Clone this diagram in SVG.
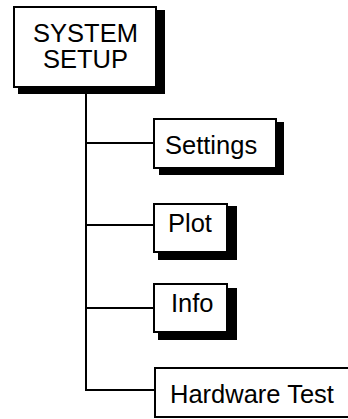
<svg xmlns="http://www.w3.org/2000/svg" width="348" height="419" viewBox="0 0 348 419">
<style>
.box{fill:#fff;stroke:#000;stroke-width:2}
.shadow{fill:#000}
.lbl{font-family:"Liberation Sans",Arial,sans-serif;font-size:25.5px;fill:#000}
.conn{fill:none;stroke:#000;stroke-width:2}
</style>
<rect width="348" height="419" fill="#fff"/>
<g id="connectors">
<path class="conn" d="M86,88 V390 H154"/>
<path class="conn" d="M86,143 H154"/>
<path class="conn" d="M86,225 H154"/>
<path class="conn" d="M86,308 H154"/>
</g>
<g id="system-setup">
<rect class="shadow" x="18" y="10" width="147" height="84"/>
<rect class="box" x="14" y="7" width="142" height="80"/>
<text class="lbl" x="85.5" y="42" text-anchor="middle">SYSTEM</text>
<text class="lbl" x="85.5" y="68" text-anchor="middle">SETUP</text>
</g>
<g id="settings">
<rect class="shadow" x="159" y="122" width="125" height="53"/>
<rect class="box" x="154" y="119" width="122" height="49"/>
<text class="lbl" x="165" y="154">Settings</text>
</g>
<g id="plot">
<rect class="shadow" x="158" y="206" width="79" height="54"/>
<rect class="box" x="154" y="204" width="73" height="48"/>
<text class="lbl" x="168" y="231.5">Plot</text>
</g>
<g id="info">
<rect class="shadow" x="158" y="288" width="79" height="52"/>
<rect class="box" x="154" y="284" width="73" height="48"/>
<text class="lbl" x="171" y="312">Info</text>
</g>
<g id="hardware-test">
<rect class="box" x="155" y="368" width="200" height="49"/>
<text class="lbl" x="170" y="403">Hardware Test</text>
</g>
</svg>
